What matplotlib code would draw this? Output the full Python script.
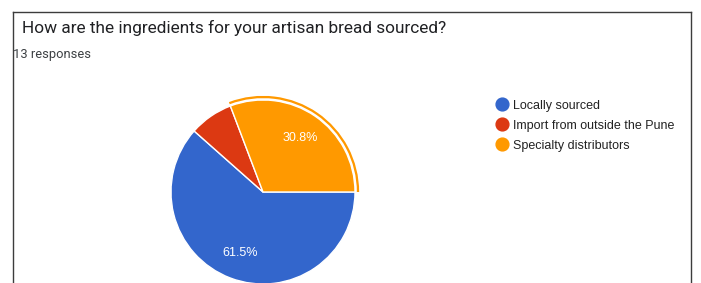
import matplotlib.pyplot as plt
from matplotlib.patches import Wedge

# survey data (13 responses)
labels = ['Locally sourced', 'Import from outside the Pune', 'Specialty distributors']
counts = [8, 1, 4]
colors = ['#3366cc', '#dc3912', '#ff9900']
title = 'How are the ingredients for your artisan bread sourced?'
subtitle = '13 responses'

W, H = 701, 283
fig = plt.figure(figsize=(W / 100, H / 100), dpi=100)

# overlay axes in pixel coordinates for border, titles and legend
ov = fig.add_axes([0, 0, 1, 1])
ov.set_xlim(0, W)
ov.set_ylim(H, 0)
ov.axis('off')

ov.plot([12.5, 12.5], [H, 11.5], color='#3c3c3c', lw=1)
ov.plot([12.5, 690.5], [11.5, 11.5], color='#3c3c3c', lw=1)
ov.plot([690.5, 690.5], [11.5, H], color='#3c3c3c', lw=1)

ov.text(22, 33, title, fontsize=12.4, family='Roboto', color='#202124', va='baseline')
ov.text(13, 58, subtitle, fontsize=9.3, family='Roboto', color='#3c4043', va='baseline')

for i in range(len(labels)):
    y = 104 + 20 * i
    ov.scatter(502, y, s=85, color=colors[i], zorder=3)
    ov.text(513, y + 4.5, labels[i], fontsize=9, family='Liberation Sans',
            color='#222222', va='baseline')

# pie axes: radius 95 px centred at (263, 192)
R = 95
cx, cy = 263, 192
half = 115
ax = fig.add_axes([(cx - half) / W, (H - cy - half) / H, 2 * half / W, 2 * half / H])
ax.set_xlim(-half / R, half / R)
ax.set_ylim(-half / R, half / R)
ax.set_aspect('equal')
ax.axis('off')

total = sum(counts)
wedges, _, autotexts = ax.pie(
    counts, colors=colors, startangle=0, counterclock=False, radius=1,
    autopct=lambda p: f'{p:.1f}%' if p > 10 else '', pctdistance=0.71,
    wedgeprops=dict(edgecolor='white', linewidth=1),
    textprops=dict(color='white', fontsize=9, family='Liberation Sans'))

# highlight ring around the specialty slice
theta2 = 360 * counts[2] / total
ax.add_patch(Wedge((0, 0), 1.045, 0, theta2, width=0.025, color=colors[2], lw=0))

fig.savefig('out.png', dpi=100)
